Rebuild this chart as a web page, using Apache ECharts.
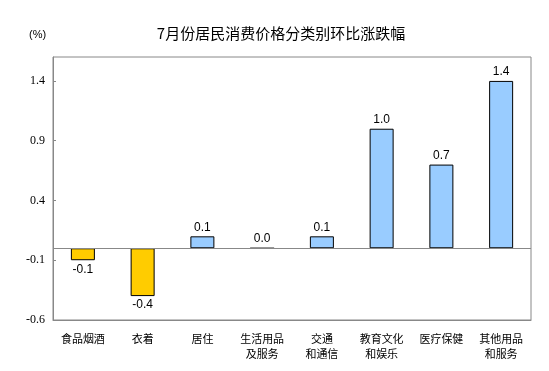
<!DOCTYPE html>
<html><head><meta charset="utf-8">
<script src="https://cdn.jsdelivr.net/npm/echarts@6/dist/echarts.min.js"></script>
<style>html,body{margin:0;padding:0;background:#fff}#c{width:549px;height:371px}</style>
</head><body><div id="c"></div>
<script>
const categories = ['食品烟酒', '衣着', '居住', '生活用品\n及服务', '交通\n和通信', '教育文化\n和娱乐', '医疗保健', '其他用品\n和服务'];
const values = [-0.1, -0.4, 0.1, 0.0, 0.1, 1.0, 0.7, 1.4];
const yTicks = { min: -0.6, max: 1.6, interval: 0.5 };
const titleText = '7月份居民消费价格分类别环比涨跌幅';
const unitText = '(%)';

const chart = echarts.init(document.getElementById('c'));
chart.setOption({
  animation: false,
  backgroundColor: '#fff',
  title: [
    { text: titleText, left: 276, top: 21, textAlign: 'center',
      textStyle: { fontFamily: 'Noto Sans CJK SC', fontSize: 15, fontWeight: 'normal', color: '#000' } },
    { text: unitText, left: 24, top: 24,
      textStyle: { fontFamily: 'Liberation Sans', fontSize: 11, fontWeight: 'normal', color: '#000' } }
  ],
  grid: { left: 53, right: 18, top: 57, bottom: 51, show: true, borderColor: '#888', borderWidth: 1 },
  xAxis: {
    type: 'category', data: categories,
    axisLine: { onZero: false, lineStyle: { color: '#888' } },
    axisTick: { show: false },
    axisLabel: { interval: 0, margin: 11, fontFamily: 'Noto Sans CJK SC', fontSize: 11, color: '#000', lineHeight: 15 }
  },
  yAxis: {
    type: 'value', min: yTicks.min, max: yTicks.max, interval: yTicks.interval,
    splitLine: { show: false },
    axisLine: { show: true, lineStyle: { color: '#888' } },
    axisTick: { show: true, inside: true, length: 3, lineStyle: { color: '#888' } },
    axisLabel: { showMaxLabel: false, margin: 8, fontFamily: 'Liberation Serif', fontSize: 12, color: '#000',
      formatter: v => v.toFixed(1) }
  },
  series: [{
    type: 'bar', barWidth: 24,
    data: values.map(v => ({
      value: v,
      itemStyle: { color: v < 0 ? '#FFCC00' : '#99CCFF', borderColor: '#000', borderWidth: 1 },
      label: { position: v < 0 ? 'bottom' : 'top' }
    })),
    label: { show: true, distance: 3, fontFamily: 'Liberation Sans', fontSize: 12, color: '#000',
      formatter: p => p.value.toFixed(1) },
    markLine: { silent: true, symbol: 'none', label: { show: false },
      lineStyle: { color: '#888', type: 'solid', width: 1 }, data: [{ yAxis: 0 }] }
  }]
});
</script></body></html>
